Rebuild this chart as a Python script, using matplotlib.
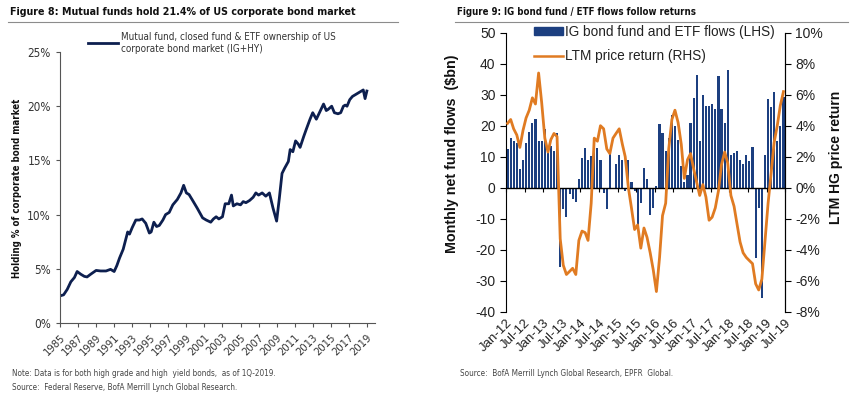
import numpy as np
import pandas as pd
import matplotlib
matplotlib.use("Agg")
import matplotlib.pyplot as plt
import matplotlib.dates as mdates
from matplotlib import font_manager as fm
from matplotlib.lines import Line2D
from matplotlib.patches import Patch

# --- Figure 8 data: share of US corporate bonds held by funds (%) ---
own_years = [1985.0, 1985.4, 1985.8, 1986.2, 1986.6, 1986.9, 1987.3, 1987.7, 1988.0, 1988.4,
             1989.0, 1989.5, 1990.1, 1990.6, 1991.0, 1991.3, 1991.6, 1992.0, 1992.5, 1992.7,
             1993.0, 1993.4, 1993.8, 1994.1, 1994.5, 1994.9, 1995.1, 1995.4, 1995.7, 1996.0,
             1996.4, 1996.7, 1997.1, 1997.5, 1998.0, 1998.4, 1998.7, 1999.0, 1999.3, 1999.7,
             2000.2, 2000.8, 2001.2, 2001.7, 2002.0, 2002.3, 2002.6, 2003.0, 2003.3, 2003.7,
             2004.0, 2004.2, 2004.6, 2005.0, 2005.3, 2005.6, 2006.0, 2006.4, 2006.7, 2007.0,
             2007.4, 2007.8, 2008.2, 2008.6, 2009.0, 2009.3, 2009.6, 2009.9, 2010.3, 2010.5,
             2010.8, 2011.1, 2011.4, 2011.6, 2012.0, 2012.3, 2012.7, 2013.0, 2013.4, 2013.8,
             2014.2, 2014.5, 2014.7, 2015.1, 2015.4, 2015.8, 2016.1, 2016.4, 2016.6, 2016.8,
             2017.1, 2017.4, 2017.8, 2018.2, 2018.6, 2018.8, 2019.0]
own_pct = [2.5, 2.6, 3.1, 3.8, 4.2, 4.75, 4.5, 4.3, 4.25, 4.5,
           4.85, 4.8, 4.8, 4.95, 4.75, 5.3, 6.0, 6.8, 8.4, 8.2,
           8.8, 9.5, 9.5, 9.6, 9.2, 8.3, 8.4, 9.3, 8.9, 9.0,
           9.5, 10.0, 10.2, 10.9, 11.4, 12.0, 12.7, 12.0, 11.85, 11.3,
           10.6, 9.7, 9.5, 9.3, 9.6, 9.8, 9.6, 9.8, 11.0, 11.0,
           11.8, 10.8, 11.0, 10.9, 11.2, 11.1, 11.3, 11.6, 12.0, 11.8,
           12.0, 11.7, 12.0, 10.6, 9.4, 11.5, 13.8, 14.3, 14.9, 16.0,
           15.8, 16.8, 16.5, 16.2, 17.2, 17.9, 18.8, 19.4, 18.8, 19.5,
           20.2, 19.6, 19.7, 20.0, 19.4, 19.3, 19.4, 20.0, 20.1, 20.0,
           20.6, 20.9, 21.1, 21.3, 21.5, 20.7, 21.4]
own_ticks = list(range(1985, 2020, 2))

# --- Figure 9 data: monthly IG fund flows ($bn) and LTM price return (%) ---
flow_months = pd.date_range("2012-01-01", periods=90, freq="MS")
flows_bn = [12.5, 16, 15, 14.5, 6, 9, 14.5, 18, 21, 22, 15, 15, 19, 11.5, 13.5, 12, 17.5,
            -25.5, -7, -9.5, -2, -3.5, -4.5,
            2.7, 9.5, 12.7, 9, 10.1, 11.6, 12.7, 8.8, -1.8, -7, 11.6, -0.5, 7.6, 10.5, 8.8,
            -1, 9, 2, -1, -12.4, -5, 6.2, 2.8, -8.8, -6.6, 0.5,
            20.5, 17.5, 12, 16, 23.5, 20, 15.5,
            7, 2, 4, 21, 28.8, 36.4, 15, 29.9, 26.5, 26.5, 27, 25.5, 36, 25.5, 21, 38,
            10.5, 11.3, 12, 8.9, 7.8, 10.5, 8.5, 13.2,
            -22.8, -6.5, -35.5, 10.5, 28.6, 26, 30.8, 15, 20, 29.4]
ltm_return = [4.15, 4.4, 3.8, 3.4, 2.6, 3.7, 4.5, 5.0, 5.8, 5.4, 7.4, 5.5, 3.2, 2.3, 3.1, 3.5, 3.3,
              -3.3, -5.0, -5.6, -5.4, -5.2, -5.6, -3.4, -2.8, -2.9, -3.4,
              -1.0, 3.2, 3.0, 4.0, 3.8, 2.5, 2.2, 3.2, 3.5, 3.8, 2.8, 2.0, 0.0, -1.3, -2.7, -2.4,
              -3.9, -2.6, -3.2, -4.2, -5.3, -6.7,
              -4.5, -1.8, -1.0, 2.5, 4.4, 5.0, 4.2, 2.8, 0.6, 1.8, 2.2, 1.2, 0.3, -0.5, 0.2, -0.6, -2.1,
              -1.9, -1.3, -0.2, 1.5, 2.3, 1.6, -0.5, -1.2, -2.3, -3.5, -4.2, -4.5, -4.7, -4.9,
              -6.2, -6.6, -5.9, -3.5, -1.0, 1.0, 2.9, 4.0, 5.3, 6.2]
flow_ticks = pd.date_range("2012-01-01", "2019-07-01", freq="6MS")

NAVY = "#0d1f4f"
BAR = "#1c3f80"
ORANGE = "#e07b22"
ARIAL = ["Liberation Sans", "DejaVu Sans"]


def narrow_font(bold):
    # look for any installed condensed / narrow sans face
    prefs = ["liberation", "dejavu", "noto", "roboto", "opensans", "open sans", "lato", "inter"]
    skip = ["mono", "serif", "italic", "oblique", "light", "thin", "semi", "extra", "black", "medium", "cjk"]
    found = []
    for f in fm.fontManager.ttflist:
        fn = f.fname.lower().rsplit("/", 1)[-1]
        if not ("narrow" in fn or "condensed" in fn):
            continue
        if any(k in fn for k in skip):
            continue
        if ("bold" in fn) != bold:
            continue
        rank = next((i for i, p in enumerate(prefs) if p in fn), len(prefs))
        found.append((rank, f.fname))
    if found:
        found.sort()
        return found[0][1]
    return None


nb = narrow_font(True)
nr = narrow_font(False)


def fp_bold(size):
    if nb:
        return fm.FontProperties(fname=nb, size=size)
    return fm.FontProperties(family=ARIAL, weight="bold", size=size * 0.78)


def fp_reg(size):
    if nr:
        return fm.FontProperties(fname=nr, size=size)
    return fm.FontProperties(family=ARIAL, size=size * 0.85)


W, H = 864, 393
fig = plt.figure(figsize=(W / 100, H / 100), dpi=100)


def box(x0, y0, x1, y1):
    # pixel box (top-left origin) -> figure fraction rect
    return [x0 / W, 1 - y1 / H, (x1 - x0) / W, (y1 - y0) / H]


# --- titles + underlines ---
fig.text(10 / W, 1 - 12 / H, "Figure 8: Mutual funds hold 21.4% of US corporate bond market",
         fontproperties=fp_bold(7.7), va="center", ha="left", color="#111111")
fig.text(457 / W, 1 - 12 / H, "Figure 9: IG bond fund / ETF flows follow returns",
         fontproperties=fp_bold(6.9), va="center", ha="left", color="#111111")
fig.add_artist(Line2D([8 / W, 398 / W], [1 - 22 / H] * 2, color="#8c8c8c", lw=0.8))
fig.add_artist(Line2D([455 / W, 848 / W], [1 - 22 / H] * 2, color="#8c8c8c", lw=0.8))

# ---------------- Figure 8 ----------------
ax1 = fig.add_axes(box(60, 52, 375, 323))
ax1.plot(own_years, own_pct, color=NAVY, lw=2.0,
         label="Mutual fund, closed fund & ETF ownership of US\ncorporate bond market (IG+HY)")
ax1.set_xlim(1985, 2019.9)
ax1.set_ylim(0, 25)
ax1.set_yticks([0, 5, 10, 15, 20, 25])
ax1.set_yticklabels([f"{v}%" for v in [0, 5, 10, 15, 20, 25]], fontproperties=fp_reg(8.5), color="#333333")
ax1.set_xticks(own_ticks)
ax1.set_xticklabels([str(y) for y in own_ticks], rotation=45, ha="right", rotation_mode="anchor",
                    fontproperties=fp_reg(8), color="#333333")
for s in ["top", "right"]:
    ax1.spines[s].set_visible(False)
for s in ["left", "bottom"]:
    ax1.spines[s].set_color("#555555")
    ax1.spines[s].set_linewidth(0.8)
ax1.tick_params(direction="out", length=3, width=0.8, color="#555555")
fig.text(17 / W, 1 - 188 / H, "Holding % of corporate bond market", rotation=90,
         fontproperties=fp_bold(6.9), va="center", ha="center", color="#111111")
ax1.legend(loc="upper left", bbox_to_anchor=((88 - 60) / 315, (323 - 32) / 271), frameon=False,
           prop=fp_reg(7.1), handlelength=3.0, handletextpad=0.3, labelspacing=0.2,
           borderpad=0, borderaxespad=0, labelcolor="#333333")

fig.text(12 / W, 1 - 373 / H, "Note: Data is for both high grade and high  yield bonds,  as of 1Q-2019.",
         fontproperties=fp_reg(5.9), color="#444444", va="center")
fig.text(12 / W, 1 - 387 / H, "Source:  Federal Reserve, BofA Merrill Lynch Global Research.",
         fontproperties=fp_reg(5.9), color="#444444", va="center")

# ---------------- Figure 9 ----------------
ax2 = fig.add_axes(box(506, 32.7, 785, 311.7))
bar_x = flow_months + pd.Timedelta(days=15)
ax2.bar(bar_x, flows_bn, width=21, color=BAR, edgecolor="none", zorder=2)
ax2.axhline(0, color="black", lw=1.0, zorder=3)
ax2.set_xlim(flow_ticks[0], flow_ticks[-1])
ax2.set_ylim(-40, 50)
ax2.set_yticks(range(-40, 51, 10))
ax2.set_yticklabels([str(v) for v in range(-40, 51, 10)], family=ARIAL, fontsize=10, color="#222222")
ax2.set_xticks(flow_ticks)
ax2.set_xticklabels([d.strftime("%b-%y") for d in flow_ticks], rotation=45, ha="right",
                    rotation_mode="anchor", family=ARIAL, fontsize=9.5, color="#222222")
ax2.tick_params(axis="x", length=0, pad=4)
ax2.tick_params(axis="y", direction="out", length=4, width=0.8)
for s in ["top", "bottom"]:
    ax2.spines[s].set_visible(False)
ax2.spines["left"].set_linewidth(0.8)

# tick marks sitting on the zero line
zero_ax = ax2.secondary_xaxis(40 / 90)
zero_ax.set_xticks(flow_ticks)
zero_ax.set_xticklabels([])
zero_ax.tick_params(direction="out", length=3, width=0.8)
zero_ax.spines["bottom"].set_visible(False)

ax3 = ax2.twinx()
ax3.plot(bar_x, ltm_return, color=ORANGE, lw=2.0, zorder=4)
ax3.set_ylim(-8, 10)
ax3.set_yticks(range(-8, 11, 2))
ax3.set_yticklabels([f"{v}%" for v in range(-8, 11, 2)], family=ARIAL, fontsize=10, color="#222222")
ax3.tick_params(axis="y", direction="out", length=4, width=0.8)
for s in ["top", "bottom", "left"]:
    ax3.spines[s].set_visible(False)
ax3.spines["right"].set_linewidth(0.8)

handles = [Patch(color=BAR), Line2D([0], [0], color=ORANGE, lw=1.8)]
labels = ["IG bond fund and ETF flows (LHS)", "LTM price return (RHS)"]
ax3.legend(handles, labels, loc="upper left", bbox_to_anchor=((534 - 506) / 279, (311.7 - 25) / 279),
           frameon=False, prop={"family": ARIAL, "size": 9.8}, handlelength=2.1, handleheight=0.5,
           handletextpad=0.2, labelspacing=0.75, borderpad=0, borderaxespad=0, labelcolor="#222222")

fig.text(452 / W, 1 - 154 / H, "Monthly net fund flows  ($bn)", rotation=90, family=ARIAL,
         fontweight="bold", fontsize=10.3, va="center", ha="center", color="#111111")
fig.text(836 / W, 1 - 157 / H, "LTM HG price return", rotation=90, family=ARIAL,
         fontweight="bold", fontsize=10, va="center", ha="center", color="#111111")
fig.text(460 / W, 1 - 373 / H, "Source:  BofA Merrill Lynch Global Research, EPFR  Global.",
         fontproperties=fp_reg(5.9), color="#444444", va="center")

fig.savefig("out.png", dpi=100)
